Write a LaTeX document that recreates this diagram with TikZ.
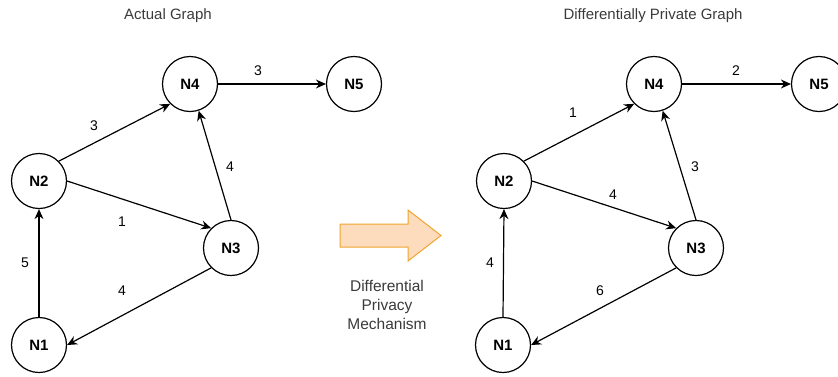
\documentclass[tikz,border=0pt]{standalone}
\usepackage{fontspec}
\setmainfont{Liberation Sans}
\usetikzlibrary{arrows.meta}
\definecolor{arrfill}{HTML}{FCDCBC}
\definecolor{arrdraw}{HTML}{EFA42F}
\definecolor{txtgray}{HTML}{3A3A3A}
\begin{document}
\begin{tikzpicture}[x=1pt,y=-1pt,
  vtx/.style={circle,draw,line width=1.2pt,minimum size=55pt,inner sep=0pt,font=\fontsize{15}{15}\selectfont\bfseries},
  edge/.style={line width=1.2pt,-{Stealth[length=10pt,width=9pt]}},
  wlabel/.style={font=\fontsize{14}{14}\selectfont, text=black},
  title/.style={font=\fontsize{15}{15}\selectfont, text=txtgray},
  mech/.style={font=\fontsize{15.5}{19}\selectfont, text=txtgray, align=center}]
\useasboundingbox (0,0) rectangle (838,376);
% Left graph
\node[vtx] (a4) at (190,84) {N4};
\node[vtx] (a5) at (354,84) {N5};
\node[vtx] (a2) at (39,181) {N2};
\node[vtx] (a3) at (231,248) {N3};
\node[vtx] (a1) at (39,345) {N1};
\draw[edge] (a4.east) -- (a5.west);
\draw[edge] (a2.north east) -- (a4.south west);
\draw[edge] (a2.east) -- (a3.north west);
\draw[edge] (a3.north) -- (a4.-72);
\draw[edge] (a3.south west) -- (a1.east);
\draw[edge] (a1.north) -- (a2.south);
\node[wlabel] (la45) at (258,71) {3};
\node[wlabel] (la24) at (94,126) {3};
\node[wlabel] (la34) at (230,167) {4};
\node[wlabel] (la23) at (122,222) {1};
\node[wlabel] (la12) at (25,263) {5};
\node[wlabel] (la31) at (122,291) {4};
\node[title] (ta) at (168,16) {Actual Graph};
% Mechanism arrow
\draw[line width=1pt, draw=arrdraw, fill=arrfill, line join=miter]
  (340,224) -- (408,224) -- (408,210) -- (441,235.5) -- (408,261) -- (408,247) -- (340,247) -- cycle;
\node[mech] (mech) at (387,305) {Differential\\Privacy\\Mechanism};
% Right graph
\node[vtx] (b4) at (654,84) {N4};
\node[vtx] (b5) at (819,84) {N5};
\node[vtx] (b2) at (504,181) {N2};
\node[vtx] (b3) at (696,248) {N3};
\node[vtx] (b1) at (503,345) {N1};
\draw[edge] (b4.east) -- (b5.west);
\draw[edge] (b2.north east) -- (b4.south west);
\draw[edge] (b2.east) -- (b3.north west);
\draw[edge] (b3.north) -- (b4.-72);
\draw[edge] (b3.south west) -- (b1.east);
\draw[edge] (b1.north) -- (b2.south);
\node[wlabel] (lb45) at (736,71) {2};
\node[wlabel] (lb24) at (573,113) {1};
\node[wlabel] (lb34) at (695,167) {3};
\node[wlabel] (lb23) at (613,195) {4};
\node[wlabel] (lb12) at (490,263) {4};
\node[wlabel] (lb31) at (600,291) {6};
\node[title] (tb) at (653,16) {Differentially Private Graph};
\end{tikzpicture}
\end{document}
